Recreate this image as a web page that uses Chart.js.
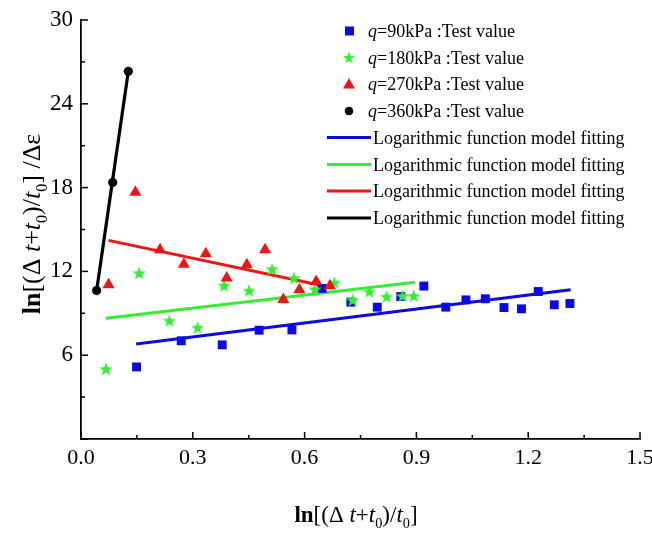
<!DOCTYPE html>
<html><head><meta charset="utf-8">
<script src="https://cdn.jsdelivr.net/npm/chart.js@4.4.0/dist/chart.umd.min.js"></script>
<style>html,body{margin:0;padding:0;background:#fff;}#wrap{position:relative;width:652px;height:535px;}</style>
</head><body><div id="wrap"><canvas id="c" width="652" height="535"></canvas></div>
<script>
// ---- data ----
const testLabels = ['q=90kPa :Test value','q=180kPa :Test value','q=270kPa :Test value','q=360kPa :Test value'];
const fitLabel = 'Logarithmic function model fitting';
const xTickLabels = ['0.0','0.3','0.6','0.9','1.2','1.5'];
const yTickLabels = ['6','12','18','24','30'];

const q90X = [0.149,0.269,0.379,0.478,0.566,0.647,0.724,0.795,0.858,0.920,0.979,1.033,1.085,1.135,1.182,1.227,1.270,1.312];
const q90Y = [5.16,7.03,6.74,7.79,7.81,10.78,9.80,9.44,10.20,10.95,9.44,9.96,10.04,9.41,9.32,10.56,9.61,9.70];
const q180X = [0.067,0.156,0.237,0.313,0.384,0.451,0.513,0.572,0.628,0.680,0.729,0.774,0.820,0.863,0.893];
const q180Y = [5.02,11.88,8.48,7.98,10.99,10.63,12.16,11.52,10.73,11.20,9.96,10.56,10.20,10.25,10.25];
const q270X = [0.074,0.146,0.212,0.276,0.335,0.391,0.445,0.494,0.543,0.586,0.631,0.668];
const q270Y = [11.04,17.66,13.55,12.52,13.26,11.52,12.47,13.55,9.98,10.68,11.28,10.97];
const q360X = [0.042,0.085,0.127];
const q360Y = [10.63,18.37,26.33];

const fit90X = [0.148,1.314];  const fit90Y = [6.81,10.68];
const fit180X = [0.067,0.896]; const fit180Y = [8.65,11.23];
const fit270X = [0.074,0.668]; const fit270Y = [14.22,10.87];
const fit360X = [0.042,0.127]; const fit360Y = [10.63,26.33];

const BLUE='#0a0ae6', GREEN='#33ee33', RED='#f01414', BLACK='#000000';
const SERIF='"Liberation Serif","Times New Roman",serif';

function pts(xs,ys){return xs.map((x,i)=>({x:x,y:ys[i]}));}
function makeStar(size,color){
  const c=document.createElement('canvas');c.width=c.height=size;
  const g=c.getContext('2d');const cx=size/2,cy=size/2+size*0.04,R=size/2,r=R*0.42;
  g.beginPath();
  for(let i=0;i<10;i++){const a=-Math.PI/2+i*Math.PI/5;const rr=i%2?r:R;g.lineTo(cx+rr*Math.cos(a),cy+rr*Math.sin(a));}
  g.closePath();g.fillStyle=color;g.fill();return c;
}
const star = makeStar(14,GREEN);
const starSmall = makeStar(13,GREEN);

const datasets = [
  {label:testLabels[0],data:pts(q90X,q90Y),showLine:false,pointStyle:'rect',pointRadius:6.3,backgroundColor:BLUE,borderColor:BLUE,borderWidth:0,order:5},
  {label:testLabels[1],data:pts(q180X,q180Y),showLine:false,pointStyle:star,pointRadius:7,backgroundColor:GREEN,borderColor:GREEN,order:4},
  {label:testLabels[2],data:pts(q270X,q270Y),showLine:false,pointStyle:'triangle',pointRadius:7,backgroundColor:RED,borderColor:RED,borderWidth:0,order:3},
  {label:testLabels[3],data:pts(q360X,q360Y),showLine:false,pointStyle:'circle',pointRadius:4.6,backgroundColor:BLACK,borderColor:BLACK,borderWidth:0,order:1},
  {label:fitLabel,data:pts(fit90X,fit90Y),showLine:true,pointRadius:0,borderColor:BLUE,borderWidth:3,fill:false,order:6},
  {label:fitLabel,data:pts(fit180X,fit180Y),showLine:true,pointRadius:0,borderColor:GREEN,borderWidth:3,fill:false,order:6},
  {label:fitLabel,data:pts(fit270X,fit270Y),showLine:true,pointRadius:0,borderColor:RED,borderWidth:3,fill:false,order:6},
  {label:fitLabel,data:pts(fit360X,fit360Y),showLine:true,pointRadius:0,borderColor:BLACK,borderWidth:3.2,fill:false,order:2}
];

function richWidth(ctx,parts,size){
  let w=0;
  for(const p of parts){ctx.font=(p.i?'italic ':'')+(p.b?'bold ':'')+(p.sub?size*0.62:size)+'px '+SERIF;w+=ctx.measureText(p.t).width;}
  return w;
}
function drawRich(ctx,parts,x,y,size){
  ctx.textBaseline='alphabetic';ctx.textAlign='left';
  for(const p of parts){
    const s=p.sub?size*0.62:size;
    ctx.font=(p.i?'italic ':'')+(p.b?'bold ':'')+s+'px '+SERIF;
    ctx.fillText(p.t,x,y+(p.sub?size*0.28:0));
    x+=ctx.measureText(p.t).width;
  }
}
const titleParts=[{t:'ln',b:true},{t:'[(Δ '},{t:'t',i:true},{t:'+'},{t:'t',i:true},{t:'0',sub:true},{t:')/'},{t:'t',i:true},{t:'0',sub:true},{t:']'}];
const yTitleParts=titleParts.concat([{t:' /Δε'}]);

const deco = {
  id:'deco',
  afterDraw(chart){
    const ctx=chart.ctx, xs=chart.scales.x, ys=chart.scales.y, ca=chart.chartArea;
    ctx.save();
    ctx.strokeStyle='#000';ctx.lineWidth=1.5;
    // inward ticks
    for(let i=0;i<=10;i++){
      const px=xs.getPixelForValue(i*0.15);const len=i%2?4:7;
      ctx.beginPath();ctx.moveTo(px,ca.bottom);ctx.lineTo(px,ca.bottom-len);ctx.stroke();
    }
    for(let i=0;i<=10;i++){
      const py=ys.getPixelForValue(i*3);const len=i%2?4:7;
      ctx.beginPath();ctx.moveTo(ca.left,py);ctx.lineTo(ca.left+len,py);ctx.stroke();
    }
    // axis titles
    ctx.fillStyle='#000';
    const xs1=23, w1=richWidth(ctx,titleParts,xs1);
    drawRich(ctx,titleParts,356-w1/2,522,xs1);
    ctx.save();ctx.translate(40,224);ctx.rotate(-Math.PI/2);
    const ys1=26, w2=richWidth(ctx,yTitleParts,ys1);
    drawRich(ctx,yTitleParts,-w2/2,0,ys1);
    ctx.restore();
    // legend
    const rows=[31,57.5,84,111,137.5,164.5,191,218];
    const fs=18;
    chart.data.datasets.forEach((ds,i)=>{
      const y=rows[i];
      if(i<4){
        ctx.fillStyle=ds.backgroundColor;ctx.strokeStyle=ds.borderColor;
        ctx.beginPath();
        if(ds.pointStyle==='rect'){ctx.fillRect(345,y-4.5,9,9);}
        else if(ds.pointStyle==='triangle'){ctx.moveTo(349,y-6);ctx.lineTo(355,y+4.5);ctx.lineTo(343,y+4.5);ctx.closePath();ctx.fill();}
        else if(ds.pointStyle==='circle'){ctx.arc(349,y,4.3,0,Math.PI*2);ctx.fill();}
        else {ctx.drawImage(starSmall,349-6.5,y-6.5);}
        ctx.fillStyle='#000';
        drawRich(ctx,[{t:'q',i:true},{t:ds.label.slice(1)}],368,y+6,fs);
      } else {
        ctx.strokeStyle=ds.borderColor;ctx.lineWidth=3;
        ctx.beginPath();ctx.moveTo(327,y);ctx.lineTo(371,y);ctx.stroke();
        ctx.fillStyle='#000';
        drawRich(ctx,[{t:ds.label}],373,y+6,fs);
      }
    });
    ctx.restore();
  }
};

new Chart(document.getElementById('c'),{
  type:'scatter',
  data:{datasets:datasets},
  options:{
    responsive:false,animation:false,devicePixelRatio:1,
    layout:{autoPadding:false,padding:{top:20,right:12,left:0,bottom:0}},
    plugins:{legend:{display:false},tooltip:{enabled:false}},
    scales:{
      x:{type:'linear',min:0,max:1.5,
         afterFit(s){s.height=96;s.paddingLeft=0;s.paddingRight=0;},
         afterBuildTicks(s){s.ticks=xTickLabels.map(v=>({value:parseFloat(v)}));},
         ticks:{callback:(v)=>Number(v).toFixed(1),color:'#000',font:{family:SERIF,size:22},padding:6,maxRotation:0},
         grid:{display:false,drawTicks:false},
         border:{display:true,color:'#000',width:1.8}},
      y:{type:'linear',min:0,max:30,
         afterFit(s){s.width=81;s.paddingTop=0;s.paddingBottom=0;},
         afterBuildTicks(s){s.ticks=[0].concat(yTickLabels.map(Number)).map(v=>({value:v}));},
         ticks:{callback:(v)=>v===0?'':String(v),color:'#000',font:{family:SERIF,size:23},padding:8},
         grid:{display:false,drawTicks:false},
         border:{display:true,color:'#000',width:1.8}}
    }
  },
  plugins:[deco]
});
</script></body></html>
